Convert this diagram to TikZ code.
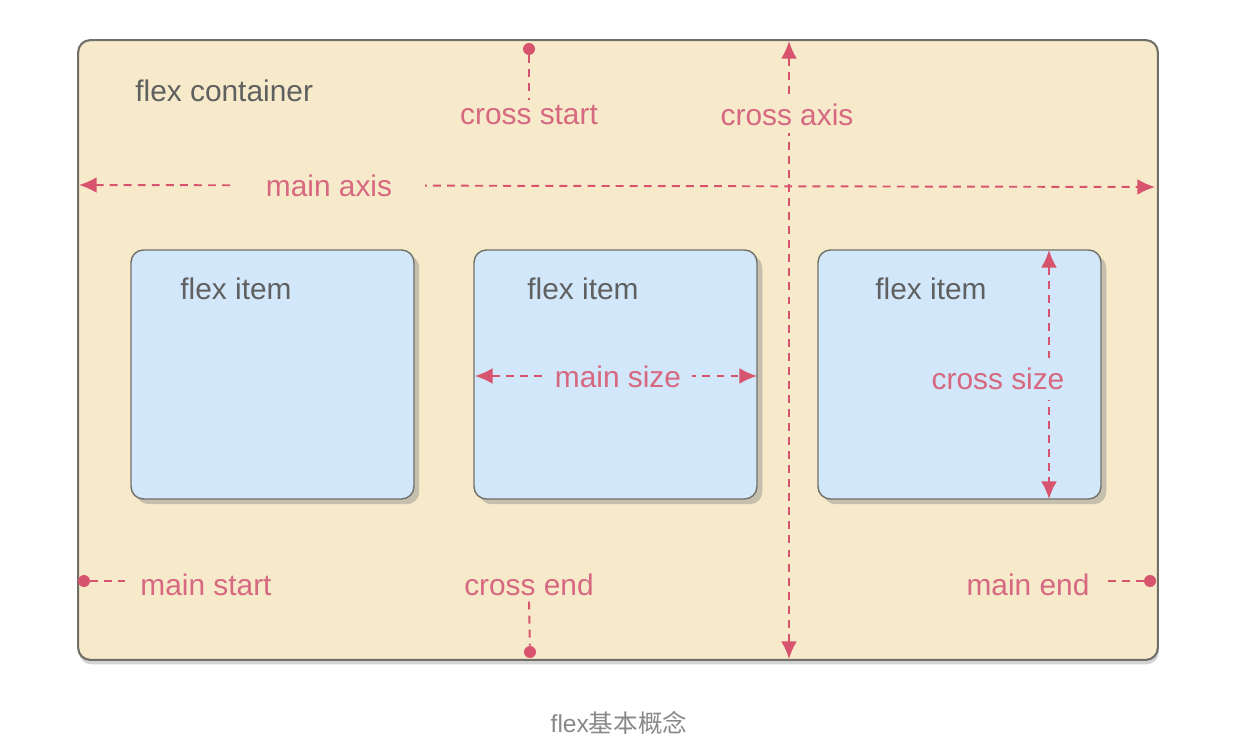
\documentclass[tikz,border=0pt]{standalone}
\usepackage{fontspec}
\setmainfont{Liberation Sans}
\newfontfamily\cjk{Noto Sans CJK SC}
\usetikzlibrary{arrows.meta,shadows}
\definecolor{boxfill}{RGB}{247,234,203}
\definecolor{itemfill}{RGB}{210,231,250}
\definecolor{boxline}{RGB}{112,112,104}
\definecolor{axisred}{RGB}{216,84,110}
\definecolor{labelred}{RGB}{214,104,128}
\definecolor{textgray}{RGB}{96,96,96}
\definecolor{captiongray}{RGB}{136,136,136}
\tikzstyle{container}=[draw=boxline, fill=boxfill, line width=1.2pt, rounded corners=7pt,
                       minimum width=21.6cm, minimum height=12.4cm, inner sep=0,
                       drop shadow={shadow xshift=0.5pt, shadow yshift=-2.5pt, opacity=0.35}]
\tikzstyle{item}=[draw=boxline, fill=itemfill, line width=0.8pt, rounded corners=7pt,
                  minimum width=5.66cm, minimum height=4.98cm, inner sep=0,
                  drop shadow={shadow xshift=3pt, shadow yshift=-3pt, opacity=0.4}]
\tikzstyle{graylabel}=[text=textgray, font=\fontsize{17}{20}\selectfont, inner sep=0]
\tikzstyle{redlabel}=[text=labelred, font=\fontsize{17}{20}\selectfont, inner xsep=2pt, inner ysep=3pt]
\tikzstyle{axisline}=[draw=axisred, line width=1.1pt, dash pattern=on 4.5pt off 3.5pt]
\tikzstyle{dualarrow}=[axisline, {Latex[length=10pt, width=9pt]}-{Latex[length=10pt, width=9pt]}]
\tikzstyle{dot}=[circle, fill=axisred, inner sep=0, minimum size=0.24cm]
\tikzstyle{caption}=[text=captiongray, font=\fontsize{14}{17}\selectfont, inner sep=0]

\begin{document}
\begin{tikzpicture}[x=0.02cm, y=-0.02cm]
        \useasboundingbox (0, 0) rectangle (1258, 756);
        % boxes
        \node[container] (box) at (618, 350) {};
        \node[item] (item1) at (272.5, 374.5) {};
        \node[item] (item2) at (615.5, 374.5) {};
        \node[item] (item3) at (959.5, 374.5) {};
        \node[graylabel, anchor=west] (boxname) at (135, 91) {flex container};
        \node[graylabel] (item1name) at (236, 289) {flex item};
        \node[graylabel] (item2name) at (583, 289) {flex item};
        \node[graylabel] (item3name) at (931, 289) {flex item};
        % axis ends
        \coordinate (ma-l) at (79, 185);
        \coordinate (ma-r) at (1155, 187);
        \coordinate (ca-t) at (789, 41);
        \coordinate (ca-b) at (789, 659);
        \coordinate (ms-l) at (475, 376);
        \coordinate (ms-r) at (757, 376);
        \coordinate (cs-t) at (1049, 250);
        \coordinate (cs-b) at (1049, 499);
        \node[dot] (startdot) at (529, 49) {};
        \node[dot] (enddot) at (530, 652) {};
        \node[dot] (mstartdot) at (84, 581) {};
        \node[dot] (menddot) at (1150, 581) {};
        % axes
        \draw[dualarrow] (ma-l) -- (ma-r);
        \draw[dualarrow] (ca-t) -- (ca-b);
        \draw[dualarrow] (ms-l) -- (ms-r);
        \draw[dualarrow] (cs-t) -- (cs-b);
        % labels
        \node[redlabel, fill=boxfill, inner xsep=0.66cm] (mainaxis) at (329, 186) {main axis};
        \node[redlabel, fill=boxfill, inner ysep=0.14cm] (crossaxis) at (787, 115) {cross axis};
        \node[redlabel, fill=itemfill, inner xsep=0.22cm] (mainsize) at (618, 377) {main size};
        \node[redlabel, fill=itemfill, inner ysep=0.2cm] (crosssize) at (998, 379) {cross size};
        \node[redlabel] (crossstart) at (529, 115) {cross start};
        \node[redlabel] (crossend) at (529, 585) {cross end};
        \node[redlabel, inner xsep=0.3cm] (mainstart) at (206, 585) {main start};
        \node[redlabel, inner xsep=0.36cm] (mainend) at (1028, 585) {main end};
        \draw[axisline] (startdot) -- (crossstart.north);
        \draw[axisline] (crossend.south) -- (enddot);
        \draw[axisline] (mstartdot) -- (mstartdot -| mainstart.west);
        \draw[axisline] (mainend.east |- menddot) -- (menddot);
        % caption
        \node[caption] (title) at (619, 723) {flex{\cjk 基本概念}};
\end{tikzpicture}
\end{document}
